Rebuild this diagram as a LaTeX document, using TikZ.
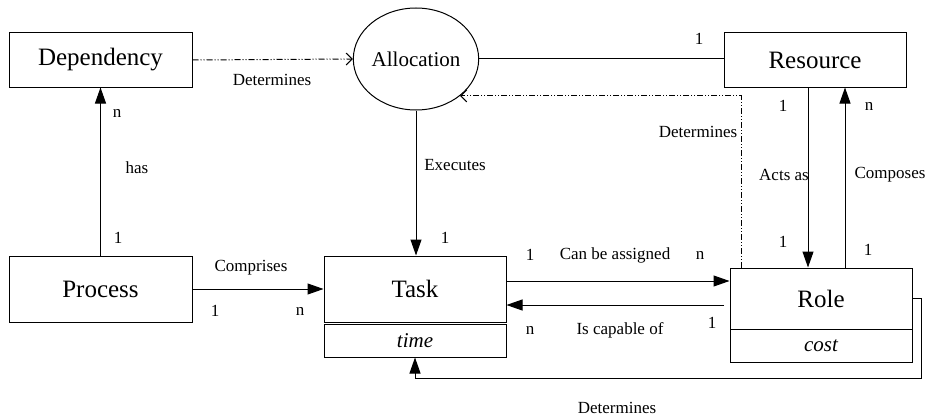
\documentclass[tikz,border=0pt]{standalone}
\usepackage{fontspec}
\setmainfont{Liberation Serif}
\usetikzlibrary{arrows.meta,shapes.geometric}
\begin{document}
\begin{tikzpicture}[x=1pt,y=-1pt,
  ent/.style={draw,line width=1pt,minimum width=182pt,inner sep=0pt,font=\fontsize{25}{28}\selectfont},
  attr/.style={draw,line width=1pt,minimum width=182pt,minimum height=33pt,inner sep=0pt,font=\fontsize{21}{24}\selectfont\itshape},
  lbl/.style={font=\fontsize{17}{20}\selectfont,inner sep=0pt},
  conn/.style={line width=1pt,-{Triangle[length=16pt,width=11pt]}},
  plain/.style={line width=1pt},
  dd/.style={line width=1pt,dash pattern=on 6pt off 2pt on 1pt off 2pt on 1pt off 2pt,-{Straight Barb[length=6pt,width=12pt]}}
]
\useasboundingbox (0,0) rectangle (926,420);

% entities
\node[ent,minimum width=183pt,minimum height=54pt] (dep) at (100.5,60) {Dependency};
\node[ent,minimum height=54pt] (res) at (815,60) {Resource};
\node[draw,ellipse,line width=1pt,minimum width=108pt,minimum height=102pt,inner sep=0pt,font=\fontsize{21}{24}\selectfont] (alloc) at (416,59) {Allocation};
\node[ent,minimum width=183pt,minimum height=66pt] (proc) at (100.5,289) {Process};
\node[ent,minimum height=66pt] (task) at (415,289) {Task};
\node[attr] (time) at (415,340.5) {time};
\node[ent,minimum height=61pt] (role) at (821,298.5) {Role};
\node[attr] (cost) at (821,345.5) {cost};

% connectors
\draw[dd] (dep.east) -- (alloc.west);
\draw[plain] (alloc.east) -- (alloc.east -| res.west);
\draw[conn] (proc.north) -- (dep.south);
\draw[conn] (alloc.south) -- (alloc.south |- task.north);
\draw[conn] (proc.east) -- (task.west);
\coordinate (a1) at ([yshift=8pt]task.east);
\draw[conn] (a1) -- (a1 -| role.west);
\coordinate (a3) at (724,305);
\draw[conn] (a3) -- (a3 -| task.east);
\coordinate (d1) at ([xshift=12pt]role.north west);
\draw[dd] (d1) |- (alloc.-40);
\coordinate (r1) at ([xshift=-7pt]res.south);
\draw[conn] (r1) -- (r1 |- role.north);
\coordinate (r2) at ([xshift=24pt]role.north);
\draw[conn] (r2) -- (r2 |- res.south);
\coordinate (b1) at (921,298.5);
\coordinate (b2) at (921,378);
\draw[conn] (role.east) -- (b1) -- (b2) -| (time.south);

% labels
\node[lbl] (l1) at (272,80) {Determines};
\node[lbl] (l2) at (699,39) {1};
\node[lbl] (l3) at (698,132) {Determines};
\node[lbl] (l4) at (783,106) {1};
\node[lbl] (l5) at (869,106) {n};
\node[lbl] (l6) at (784,175) {Acts as};
\node[lbl] (l7) at (890,175) {Composes};
\node[lbl] (l8) at (783,242) {1};
\node[lbl] (l9) at (868,250) {1};
\node[lbl] (l10) at (117,113) {n};
\node[lbl] (l11) at (137,168) {has};
\node[lbl] (l12) at (118,238) {1};
\node[lbl] (l13) at (455,165) {Executes};
\node[lbl] (l14) at (445,238) {1};
\node[lbl] (l15) at (251,268) {Comprises};
\node[lbl] (l16) at (215,311) {1};
\node[lbl] (l17) at (300,311) {n};
\node[lbl] (l18) at (530,255) {1};
\node[lbl] (l19) at (615,255) {Can be assigned};
\node[lbl] (l20) at (700,255) {n};
\node[lbl] (l21) at (530,330) {n};
\node[lbl] (l22) at (620,330) {Is capable of};
\node[lbl] (l23) at (712,323) {1};
\node[lbl] (l24) at (617,408) {Determines};
\end{tikzpicture}
\end{document}
